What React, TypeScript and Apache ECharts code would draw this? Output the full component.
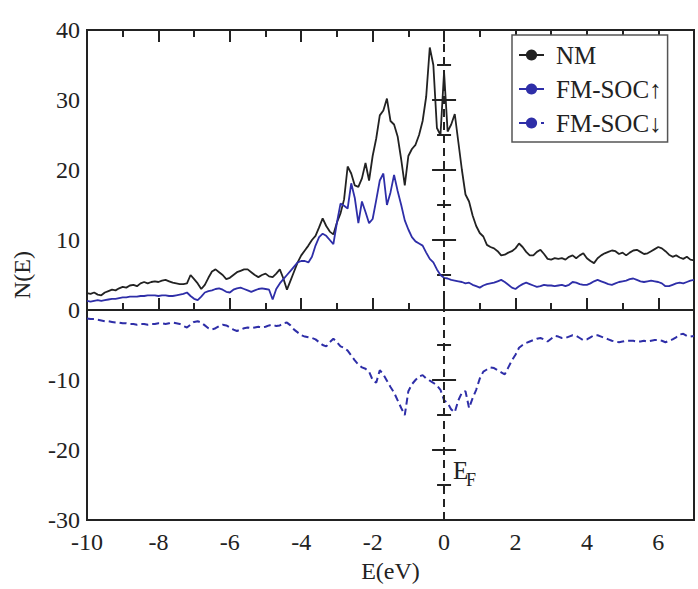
import React, { useEffect, useRef } from "react";
import * as echarts from "echarts";

// Energy grid: -10 eV to 7 eV, 0.1 eV step
const E_MIN = -10;
const E_STEP = 0.1;

// Total DOS, non-magnetic
const NM = [
  2.4, 2.3, 2.5, 2.2, 2.1, 2.5, 2.7, 2.9, 2.8, 3.1,
  3.3, 3.2, 3.5, 3.6, 3.4, 3.8, 4.0, 3.8, 4.0, 4.1,
  4.0, 4.2, 4.3, 4.1, 3.9, 3.8, 3.7, 3.7, 3.8, 5.0,
  4.4, 3.8, 3.0, 3.6, 4.6, 5.5, 5.8, 5.4, 5.0, 4.4,
  4.6, 5.0, 5.4, 5.6, 5.8, 5.8, 5.4, 5.0, 4.7, 5.0,
  5.2, 4.8, 4.7, 5.2, 5.8, 4.5, 2.9, 4.2, 5.5, 6.8,
  7.8, 8.5, 9.2, 10.0, 10.6, 11.8, 13.1, 12.0, 11.2, 10.8,
  12.5, 13.8, 15.8, 20.5, 19.5, 17.8, 17.6, 18.8, 21.0, 18.5,
  22.0, 24.5, 27.8, 28.5, 30.2, 27.0, 26.5, 24.8, 21.5, 17.8,
  22.0, 23.0, 23.6, 25.0, 27.0, 30.5, 37.5, 35.0, 26.0, 25.0,
  34.0, 25.5, 26.5, 28.0, 24.0, 20.0, 16.5, 15.5, 13.5, 12.0,
  11.0, 10.5, 9.3, 9.0, 8.8, 8.4, 7.8, 7.9, 8.2, 8.4,
  8.8, 9.5, 9.0, 8.3, 7.8, 7.8, 8.3, 8.6, 8.0, 7.3,
  7.2, 7.4, 7.3, 7.4, 7.2, 7.6, 7.8, 7.4, 7.8, 8.1,
  7.4, 7.0, 6.7, 7.4, 7.8, 8.1, 8.3, 8.5, 8.4, 8.0,
  8.2, 7.8, 8.2, 8.5, 8.6, 8.3, 8.0, 8.1, 8.4, 8.7,
  9.0, 8.8, 8.4, 7.9, 7.6, 7.8, 7.5, 7.3, 7.6, 7.2,
  7.1,
];

// Ferromagnetic with SOC, spin up
const FM_UP = [
  1.3, 1.2, 1.3, 1.4, 1.3, 1.4, 1.5, 1.6, 1.6, 1.7,
  1.8, 1.8, 1.9, 1.9, 1.9, 2.0, 2.0, 2.1, 2.1, 2.1,
  2.0, 2.1, 2.1, 2.0, 2.0, 2.1, 2.2, 2.3, 2.5, 2.0,
  1.6, 1.4, 1.9, 2.5, 2.7, 2.8, 3.0, 3.1, 2.9, 2.6,
  2.5, 2.9, 3.1, 3.2, 3.0, 2.8, 2.6, 2.8, 3.0, 3.1,
  3.0, 2.9, 1.5, 3.0, 3.8, 4.4, 5.0, 5.6, 6.2, 6.8,
  7.0, 7.0, 6.8, 7.6, 9.2, 10.4, 10.9, 10.6, 10.0, 9.4,
  12.5, 15.2, 14.9, 14.5, 18.1, 16.0, 12.4, 15.5, 14.0, 12.4,
  13.0, 15.7, 18.5, 19.5, 15.0, 16.8, 19.3, 17.0, 15.0, 12.8,
  11.5, 10.4, 9.8, 9.5, 9.2, 8.2, 7.3, 6.8, 5.8, 5.0,
  4.6, 4.5, 4.3, 4.2, 4.1, 4.0, 3.8, 3.9, 3.6, 3.4,
  3.2, 3.5, 3.7, 3.8, 3.9, 4.1, 4.3, 4.0, 3.6, 3.2,
  3.0, 3.4, 3.7, 3.9, 3.7, 3.5, 3.3, 3.4, 3.6, 3.5,
  3.5, 3.4, 3.5, 3.6, 3.4, 3.6, 4.0, 3.9, 3.7, 3.6,
  3.6, 3.8, 4.1, 4.3, 4.1, 3.9, 3.7, 3.6, 3.8, 4.0,
  4.1, 4.2, 4.4, 4.5, 4.3, 4.1, 4.0, 4.1, 4.2, 4.1,
  4.0, 3.8, 3.4, 3.4, 3.6, 3.8, 3.9, 3.8, 4.0, 4.2,
  4.3,
];

// Ferromagnetic with SOC, spin down (plotted negative)
const FM_DOWN = [
  -1.2, -1.3, -1.3, -1.4, -1.5, -1.6, -1.6, -1.7, -1.8, -1.8,
  -1.9, -1.9, -2.0, -2.0, -2.1, -2.0, -2.0, -2.1, -2.0, -2.0,
  -1.9, -1.9, -2.0, -1.9, -1.8, -1.9, -2.0, -2.3, -2.5, -2.1,
  -1.7, -1.6, -1.8, -2.2, -2.6, -2.8, -2.6, -2.3, -2.1, -2.2,
  -2.5, -2.8, -3.0, -2.8, -2.6, -2.5, -2.6, -2.5, -2.4, -2.5,
  -2.4, -2.2, -2.1, -2.3, -2.2, -1.9, -1.8, -2.2, -2.8, -3.2,
  -3.6, -3.8, -3.9, -4.0, -4.2, -4.6, -5.0, -5.2, -4.6, -4.1,
  -4.6, -5.2, -5.4, -5.8, -6.5, -7.2, -7.8, -8.2, -8.4, -8.8,
  -10.0, -10.4, -8.6, -9.2, -10.1, -11.0, -11.8, -12.9, -14.0, -15.0,
  -11.6, -10.6, -10.0, -9.5, -9.3, -9.8, -10.1, -10.4, -10.8, -11.4,
  -12.9, -13.3, -14.2, -14.6, -12.9, -11.8, -11.6, -14.0, -12.6, -11.4,
  -9.8, -8.8, -8.5, -8.2, -8.3, -8.6, -8.9, -9.2, -8.2, -7.2,
  -6.4, -5.4, -5.0, -4.7, -4.5, -4.3, -4.1, -4.0, -4.2, -4.5,
  -4.1, -3.7, -3.8, -4.0, -4.0, -3.8, -3.6, -3.7, -4.0, -4.3,
  -4.2, -3.9, -3.6, -3.6, -3.8, -4.0, -4.2, -4.4, -4.5, -4.6,
  -4.5, -4.4, -4.4, -4.4, -4.5, -4.5, -4.4, -4.5, -4.4, -4.3,
  -4.3, -4.4, -4.6, -4.4, -4.2, -3.9, -3.5, -3.4, -3.7, -3.8,
  -3.7,
];

const SERIES_NAMES = ["NM", "FM-SOC\u2191", "FM-SOC\u2193"];
const X_LABEL = "E(eV)";
const Y_LABEL = "N(E)";

const FONT = "'Liberation Serif', 'Times New Roman', serif";
const INK = "#222";
const BLUE = "#2e2ea8";

const toPairs = (arr: number[]) =>
  arr.map((v, i) => [Math.round((E_MIN + i * E_STEP) * 10) / 10, v]);

export default function App() {
  const ref = useRef<HTMLDivElement>(null);

  useEffect(() => {
    if (!ref.current) return;
    const chart = echarts.init(ref.current, undefined, { renderer: "svg" });

    const grid = { left: 87, right: 4, top: 30, bottom: 69, show: true, borderColor: INK, borderWidth: 2, backgroundColor: "#fff" };

    const hiddenLine = { show: false };
    const xBase = { type: "value", min: -10, max: 7, splitLine: { show: false }, axisLine: hiddenLine };
    const yBase = { type: "value", min: -30, max: 40, interval: 10, splitLine: { show: false }, axisLine: hiddenLine };

    const option: any = {
      animation: false,
      backgroundColor: "#fff",
      grid,
      legend: {
        data: SERIES_NAMES,
        orient: "vertical",
        left: 512,
        top: 35,
        padding: [7, 6, 6, 6],
        itemGap: 8,
        itemWidth: 25,
        itemHeight: 14,
        backgroundColor: "#fff",
        borderColor: "#555",
        borderWidth: 1.5,
        borderRadius: 0,
        textStyle: { fontFamily: FONT, fontSize: 25, color: INK, lineHeight: 26, padding: [0, 0, 0, 7] },
      },
      xAxis: [
        {
          ...xBase,
          position: "bottom",
          interval: 2,
          name: X_LABEL,
          nameLocation: "middle",
          nameGap: 38,
          nameTextStyle: { fontFamily: FONT, fontSize: 24, color: INK },
          axisTick: { show: true, inside: true, length: 12, lineStyle: { color: INK, width: 2 } },
          axisLabel: { fontFamily: FONT, fontSize: 24, color: INK, margin: 10, showMaxLabel: false },
        },
        {
          ...xBase,
          position: "bottom",
          interval: 1,
          axisTick: { show: true, inside: true, length: 7, lineStyle: { color: INK, width: 2 } },
          axisLabel: { show: false },
        },
        {
          ...xBase,
          position: "top",
          interval: 2,
          axisTick: { show: true, inside: true, length: 12, lineStyle: { color: INK, width: 2 } },
          axisLabel: { show: false },
        },
        {
          ...xBase,
          position: "top",
          interval: 1,
          axisTick: { show: true, inside: true, length: 7, lineStyle: { color: INK, width: 2 } },
          axisLabel: { show: false },
        },
      ],
      yAxis: [
        {
          ...yBase,
          position: "left",
          name: Y_LABEL,
          nameLocation: "middle",
          nameGap: 53,
          nameTextStyle: { fontFamily: FONT, fontSize: 24, color: INK },
          axisTick: { show: true, inside: true, length: 12, lineStyle: { color: INK, width: 2 } },
          minorTick: { show: true, splitNumber: 2, length: 7, lineStyle: { color: INK, width: 2 } },
          axisLabel: { fontFamily: FONT, fontSize: 24, color: INK, margin: 7 },
        },
        {
          ...yBase,
          position: "right",
          axisTick: { show: true, inside: true, length: 12, lineStyle: { color: INK, width: 2 } },
          minorTick: { show: true, splitNumber: 2, length: 7, lineStyle: { color: INK, width: 2 } },
          axisLabel: { show: false },
        },
      ],
      series: [
        {
          name: SERIES_NAMES[0],
          type: "line",
          data: toPairs(NM),
          showSymbol: false,
          symbol: "none",
          lineStyle: { color: INK, width: 1.8 },
          itemStyle: { color: INK },
          z: 3,
          markLine: {
            silent: true,
            symbol: "none",
            label: { show: false },
            data: [
              { yAxis: 0, lineStyle: { color: INK, width: 2, type: "solid" } },
              { xAxis: 0, lineStyle: { color: INK, width: 2, type: [8, 5] } },
            ],
          },
        },
        {
          name: SERIES_NAMES[1],
          type: "line",
          data: toPairs(FM_UP),
          showSymbol: false,
          symbol: "none",
          lineStyle: { color: BLUE, width: 1.8 },
          itemStyle: { color: BLUE },
          z: 4,
        },
        {
          name: SERIES_NAMES[2],
          type: "line",
          data: toPairs(FM_DOWN),
          showSymbol: false,
          symbol: "none",
          lineStyle: { color: BLUE, width: 2, type: [7, 4] },
          itemStyle: { color: BLUE },
          z: 4,
        },
      ],
      graphic: [
        { type: "text", left: 453, top: 458, z: 10, style: { text: "E", fontFamily: FONT, fontSize: 25, fill: INK } },
        { type: "text", left: 466, top: 471, z: 10, style: { text: "F", fontFamily: FONT, fontSize: 18, fill: INK } },
      ],
    };

    chart.setOption(option);
    return () => chart.dispose();
  }, []);

  return (
    <div
      ref={ref}
      style={{ position: "fixed", left: 0, top: 0, width: 698, height: 589, background: "#fff" }}
    />
  );
}
